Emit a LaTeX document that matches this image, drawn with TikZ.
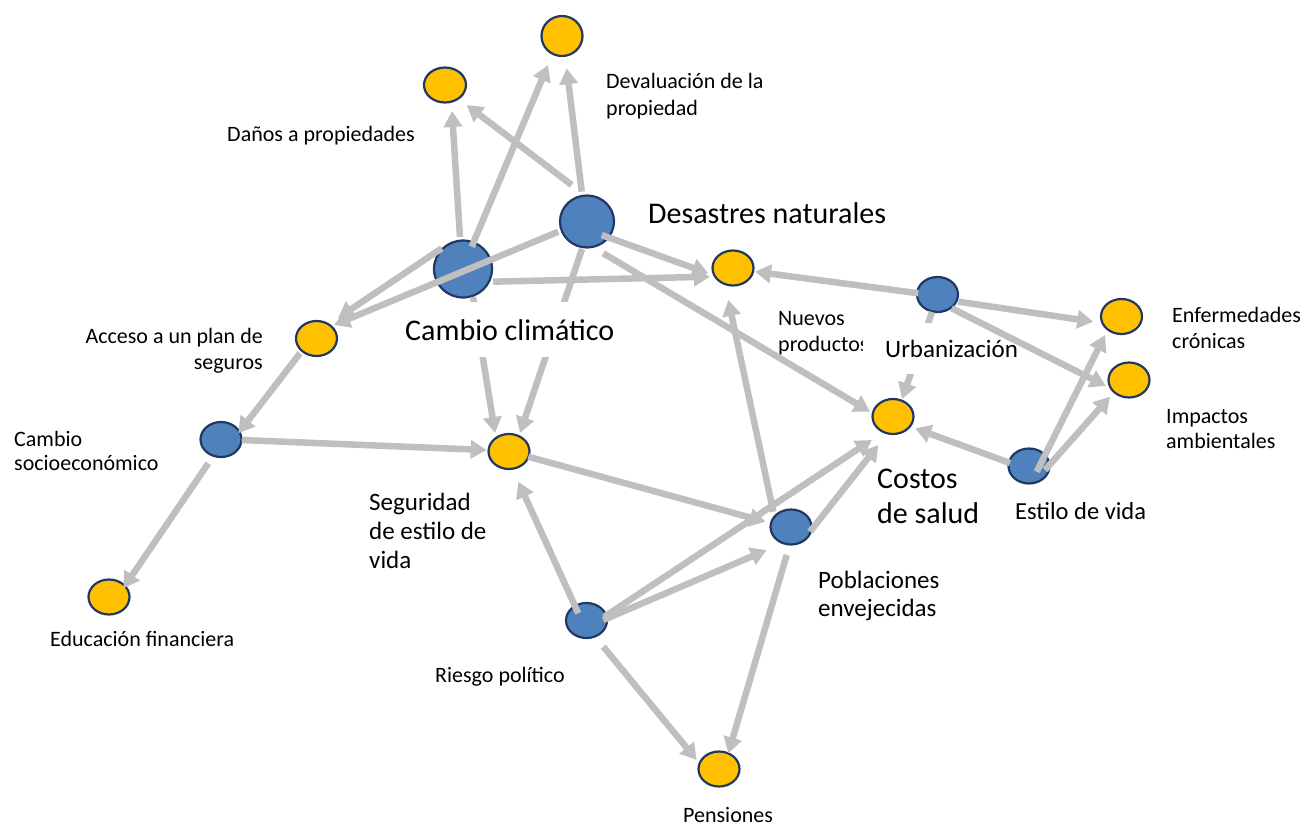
\documentclass[tikz,border=0pt]{standalone}
\usepackage{fontspec}
\setmainfont{Carlito}
\usetikzlibrary{shapes.geometric,arrows.meta,calc}
\definecolor{nodeY}{RGB}{255,192,0}
\definecolor{nodeB}{RGB}{79,129,189}
\definecolor{nodeBorder}{RGB}{32,56,100}
\definecolor{edgeG}{RGB}{191,191,191}
\newcommand{\lbltab}[2]{\begin{tabular}[t]{@{}#1@{}}#2\end{tabular}}
\begin{document}
\begin{tikzpicture}[x=1pt, y=-1pt,
  ynode/.style={ellipse, draw=nodeBorder, line width=2.2pt, fill=nodeY, minimum width=41pt, minimum height=35pt, inner sep=0pt},
  bnode/.style={ynode, fill=nodeB},
  arr/.style={draw=edgeG, line width=6.5pt, -{Triangle[length=16pt,width=18pt]}},
  lbl/.style={inner sep=0pt, anchor=base west, text=black},
  lblbox/.style={lbl, fill=white, inner xsep=8pt, inner ysep=17pt},
  fsmall/.style={font=\fontsize{22}{27}\selectfont},
  fmed/.style={font=\fontsize{25}{29}\selectfont},
  fbig/.style={font=\fontsize{30}{35}\selectfont}]
\useasboundingbox (0,0) rectangle (1302,825);

% nodes
\node[ynode, minimum height=40pt] (devp) at (562,36) {};
\node[ynode, minimum width=42pt] (danos) at (445,85) {};
\node[bnode, minimum width=54pt, minimum height=52pt] (des) at (587,221.5) {};
\node[bnode, minimum width=58pt, minimum height=57pt] (cc) at (463,269) {};
\node[ynode] (nuev) at (733,268) {};
\node[bnode] (urb) at (937.5,294.5) {};
\node[ynode] (enf) at (1121.5,316.5) {};
\node[ynode] (imp) at (1129,380) {};
\node[ynode] (acc) at (316.5,338.5) {};
\node[ynode] (cos) at (893,416.5) {};
\node[bnode] (soc) at (221,439.5) {};
\node[ynode] (seg) at (509,451.5) {};
\node[bnode] (est) at (1029,466) {};
\node[bnode] (pob) at (791,527) {};
\node[bnode] (rie) at (586.5,620.5) {};
\node[ynode] (edu) at (109,597) {};
\node[ynode] (pen) at (719,769) {};

% connectors passing under labels
\draw[arr] ($(cc)+(-70.3:29.7pt)$) -- ($(seg)+(127:23.2pt)$);
\draw[arr] ($(des)+(-100.3:28pt)$) -- ($(seg)+(59.3:21.5pt)$);
\draw[arr] ($(urb)+(-107.4:18.3pt)$) -- ($(cos)+(62.8:19.7pt)$);

% labels
\node[lbl, fsmall] (devlbl) at (606,88) {\lbltab{l}{Devaluación de la\\propiedad}};
\node[lbl, fsmall, anchor=base east] (danlbl) at (415,141) {Daños a propiedades};
\node[lbl, fbig] (deslbl) at (648,223) {Desastres naturales};
\node[lblbox, fbig] (cclbl) at (397,340) {Cambio climático};
\begin{scope}
\clip (770,290) rectangle (862.7,370);
\node[lbl, font=\fontsize{22}{26.7}\selectfont] (nuevlbl) at (778,325) {\lbltab{l}{Nuevos\\productos}};
\end{scope}
\node[lblbox, fmed, inner ysep=16.5pt] (urblbl) at (877,357) {Urbanización};
\node[lbl, font=\fontsize{22}{26.7}\selectfont] (enflbl) at (1172,322) {\lbltab{l}{Enfermedades\\crónicas}};
\node[lbl, font=\fontsize{22}{25.5}\selectfont] (implbl) at (1166,423) {\lbltab{l}{Impactos\\ambientales}};
\node[lbl, font=\fontsize{22}{26.7}\selectfont, anchor=base east] (acclbl) at (263,343) {\lbltab{r}{Acceso a un plan de\\seguros}};
\node[lbl, font=\fontsize{22}{24.5}\selectfont] (soclbl) at (14,446) {\lbltab{l}{Cambio\\socioeconómico}};
\node[lbl, fbig] (coslbl) at (877,488) {\lbltab{l}{Costos\\de salud}};
\node[lbl, font=\fontsize{24.5}{29}\selectfont] (estlbl) at (1015,519) {Estilo de vida};
\node[lbl, fmed] (seglbl) at (369,510) {\lbltab{l}{Seguridad\\de estilo de\\vida}};
\node[lbl, font=\fontsize{25}{28.5}\selectfont] (poblbl) at (818,588) {\lbltab{l}{Poblaciones\\envejecidas}};
\node[lbl, fsmall] (rielbl) at (435,682) {Riesgo político};
\node[lbl, fsmall] (edulbl) at (50,646) {Educación financiera};
\node[lbl, fsmall] (penlbl) at (683,822) {Pensiones};

% connectors
\draw[arr] ($(cc)+(95.4:32.1pt)$) -- ($(danos)+(-75:26.9pt)$);
\draw[arr] ($(cc)+(68.7:23.9pt)$) -- ($(devp)+(-115.8:32.2pt)$);
\draw[arr] ($(des)+(112.7:39.6pt)$) -- ($(danos)+(-42.7:29.5pt)$);
\draw[arr] ($(des)+(100:30.3pt)$) -- ($(devp)+(-81.7:32.6pt)$);
\draw[arr] ($(des)+(-42.6:20pt)$) -- ($(nuev)+(-167.9:25.3pt)$);
\draw[arr] ($(cc)+(-22.9:32.6pt)$) -- ($(nuev)+(-159.3:24.6pt)$);
\draw[arr] ($(des)+(-160.4:30.5pt)$) -- ($(acc)+(37.6:22.1pt)$);
\draw[arr] ($(cc)+(135.8:29.7pt)$) -- ($(acc)+(43.6:29.7pt)$);
\draw[arr] ($(des)+(-62.9:35.7pt)$) -- ($(cos)+(168.2:23.5pt)$);
\draw[arr] ($(urb)+(176.4:19.2pt)$) -- ($(nuev)+(-9.5:22.3pt)$);
\draw[arr] ($(urb)+(-19.1:22pt)$) -- ($(enf)+(-169.6:28.7pt)$);
\draw[arr] ($(urb)+(-44.2:19.8pt)$) -- ($(imp)+(-165.4:23.8pt)$);
\draw[arr] ($(seg)+(-15.1:20pt)$) -- ($(pob)+(168.3:26pt)$);
\draw[arr] ($(soc)+(-1.4:20.7pt)$) -- ($(seg)+(176.2:22.4pt)$);
\draw[arr] ($(soc)+(-118.1:27pt)$) -- ($(edu)+(31.3:16.7pt)$);
\draw[arr] ($(acc)+(-138.1:22.2pt)$) -- ($(soc)+(19.7:18.4pt)$);
\draw[arr] ($(rie)+(138.7:10.9pt)$) -- ($(seg)+(-72.9:31.6pt)$);
\draw[arr] ($(rie)+(1.7:16.8pt)$) -- ($(pob)+(-136.6:33.5pt)$);
\draw[arr] ($(rie)+(11.3:17.8pt)$) -- ($(cos)+(-132.2:31.7pt)$);
\draw[arr] ($(rie)+(-57.3:31.1pt)$) -- ($(pen)+(158:24pt)$);
\draw[arr] ($(pob)+(-98.7:28.3pt)$) -- ($(pen)+(59.4:18.2pt)$);
\draw[arr] ($(pob)+(139.2:23.4pt)$) -- ($(nuev)+(-98.4:32.3pt)$);
\draw[arr] ($(pob)+(-13.9:19.6pt)$) -- ($(cos)+(-117.3:32.1pt)$);
\draw[arr] ($(est)+(171:19.2pt)$) -- ($(cos)+(-28.2:25pt)$);
\draw[arr] ($(est)+(-36.5:9.6pt)$) -- ($(enf)+(-131.7:24.8pt)$);
\draw[arr] ($(est)+(-14:16.5pt)$) -- ($(imp)+(-138.7:25.3pt)$);
\end{tikzpicture}
\end{document}
